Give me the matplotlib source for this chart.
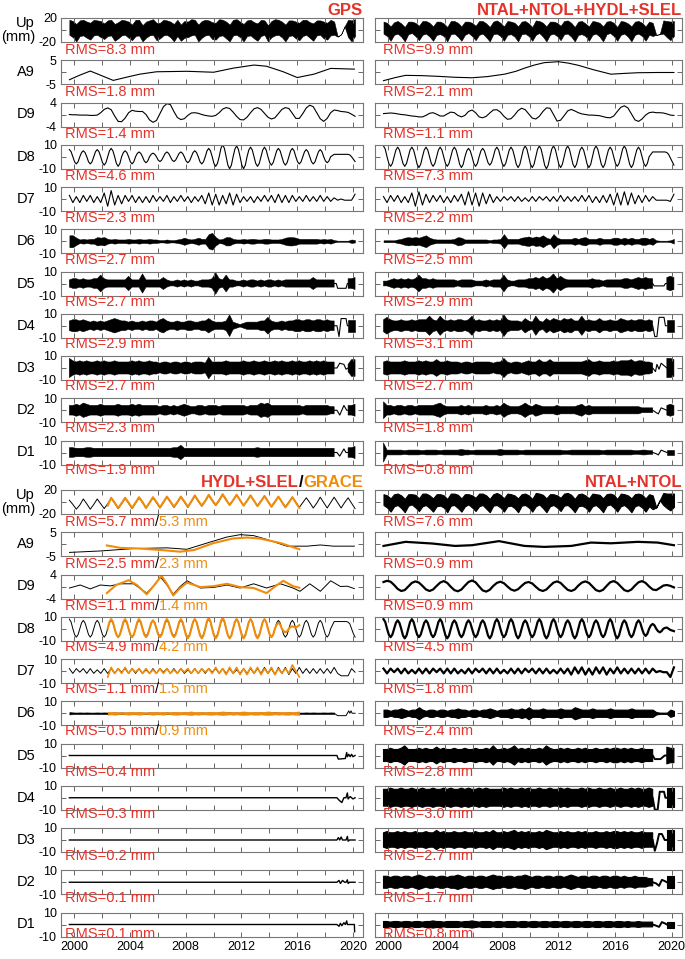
import numpy as np
import matplotlib.pyplot as plt

plt.rcParams['font.family'] = ['Liberation Sans', 'DejaVu Sans']

na = np.nan
T0, T1 = 1999.65, 2020.15   # span of the series
G0, G1 = 2002.4, 2016.15    # GRACE span

rows = ['Up\n(mm)', 'A9', 'D9', 'D8', 'D7', 'D6', 'D5', 'D4', 'D3', 'D2', 'D1']
lims = [20, 5, 4, 10, 10, 10, 10, 10, 10, 10, 10]
year_ticks = list(range(2000, 2021, 2))
year_labels = ['2000', '', '2004', '', '2008', '', '2012', '', '2016', '', '2020']

gps_rms = ['8.3', '1.8', '1.4', '4.6', '2.3', '2.7', '2.7', '2.9', '2.7', '2.3', '1.9']
rt_rms = ['9.9', '2.1', '1.1', '7.3', '2.2', '2.5', '2.9', '3.1', '2.7', '1.8', '0.8']
hyd_rms = ['5.7', '2.5', '1.1', '4.9', '1.1', '0.5', '0.4', '0.3', '0.2', '0.1', '0.1']
grace_rms = ['5.3', '2.3', '1.4', '4.2', '1.5', '0.9']
br_rms = ['7.6', '0.9', '0.9', '4.5', '1.8', '2.4', '2.8', '3.0', '2.7', '1.7', '0.8']

# ---------------- GPS ----------------
gps_up_hi = [17, 15, 10, 16, 17, 14, 12, 17, 16, 15, 11, 16, 17, 10, 13, 17, 16, 14, 9, 17,
             17, 8, 14, 16, 18, 12, 12, 17, 16, 14, 10, 17, 9, 15, 14, 18, 17, 9, 15, 17,
             16, 13, 12, 18, 17, 14, 9, 17, 18, 14, 10, 16, 17, 13, 11, 17, 16, 8, 15, 18,
             17, 14, 9, 16, 16, 14, 12, 17, 17, 13, 11, 16, 16, 14, 12, 17, 14, -11, -7, 6, 17, 16, 18]
gps_up_lo = [-8, -12, -19, -10, -9, -13, -16, -9, -8, -12, -15, -10, -9, -18, -14, -9, -8, -13, -17, -10,
             -9, -19, -13, -9, -8, -17, -14, -9, -8, -12, -19, -10, -18, -13, -12, -9, -8, -19, -13, -9,
             -8, -15, -16, -10, -9, -14, -19, -9, -8, -12, -19, -10, -9, -14, -18, -10, -8, -19, -12, -9,
             -8, -12, -19, -10, -9, -14, -17, -10, -8, -13, -18, -9, -8, -14, -16, -9, -8, -11, -7, 6, -12, -19, -10]
gps_a9_t = [1999.66, 2000.4, 2001.15, 2002.0, 2002.8, 2003.8, 2004.7, 2005.9, 2008.1, 2010.0,
            2011.4, 2012.9, 2013.8, 2015.0, 2016.0, 2017.2, 2018.4, 2020.1]
gps_a9 = [-3.1, -1.2, 0.5, -1.5, -3.4, -2.0, -0.8, 0.2, 0.4, 0.0, 1.7, 3.0, 2.5, 0.2, -2.2, -0.8, 1.6, 1.3]
gps_d9 = [0.0, -0.1, -0.1, -0.2, -0.2, -0.2, -0.3, -0.3, -0.2, 0.6, 1.7, 2.2, 1.6, -0.5, -2.3, -2.4,
          -1.2, 0.6, 1.4, 1.1, 1.0, 1.0, 0.0, -1.8, -2.6, -2.0, 0.3, 2.6, 3.6, 3.3, 1.0, -1.0,
          -1.7, -1.4, -0.3, 0.5, 0.6, 0.4, 0.0, -0.3, -0.5, -0.6, -0.3, 0.6, 1.8, 2.3, 2.0, 0.8,
          -0.6, -1.7, -1.8, -0.9, 0.6, 1.9, 2.3, 1.7, 0.4, -0.9, -1.5, -1.1, 0.3, 1.7, 2.3, 2.0,
          0.4, -1.3, -1.3, 0.3, 2.2, 3.1, 2.6, 0.6, -1.4, -2.3, -1.3, 0.6, 1.5, 1.3, 1.0, 0.9,
          0.7, 0.1, -0.6]
# D8 is read every eighth of a year
gps_d8 = [6, 4.2, 0, -4.2, -6, -4.2, 0, 3.5, 5, 3.5, 0, -4.2, -6, -4.2, 0, 4.2,
          6, 4.2, 0, -4.9, -7, -4.9, 0, 4.9, 7, 4.9, 0, -5.6, -8, -5.6, 0, 3.5,
          5, 3.5, 0, -4.2, -6, -4.2, 0, 2.8, 4, 2.8, 0, -3.5, -5, -3.5, 0, 2.1,
          3, 2.1, 0, -2.8, -4, -2.8, 0, 2.8, 4, 2.8, 0, -2.8, -4, -2.8, 0, 2.8,
          4, 2.8, 0, -3.5, -5, -3.5, 0, 3.5, 5, 3.5, 0, -4.2, -6, -4.2, 0, 4.9,
          7, 4.9, 0, -5.6, -8, -5.6, 0, 7, 10, 7, 0, -7, -10, -7, 0, 6.3,
          9, 6.3, 0, -7, -10, -7, 0, 5.6, 8, 5.6, 0, -5.6, -8, -5.6, 0, 5.6,
          8, 5.6, 0, -4.9, -7, -4.9, 0, 4.9, 7, 4.9, 0, -4.9, -7, -4.9, 0, 4.9,
          7, 4.9, 0, -4.2, -6, -4.2, 0, 4.2, 6, 4.2, 0, -4.2, -6, -4.2, 0, 4.2,
          6, 4.2, 0, -3.5, -5, -3.5, 0, 1, 2, 2, 2, 2, 2, 2, 2, 2, 2, 1.5, 0, -2, -4]
gps_d7 = [3, -3, 2, -3, 3, -2, 3, -3, 2, -3, 5, -6, 7, -5, 3, -4, 3, -2, 3, -3, 2, -3,
          2, -3, 3, -2, 2, -2, 3, -3, 2, -2, 3, -2, 2, -3, 2, -2, 3, -4, 5, -5, 4, -5, 3, -4,
          5, -5, 4, -3, 2, -2, 2, -3, 2, -2, 3, -2, 3, -3, 4, -3, 3, -3, 3, -2, 2, -2, 3, -2,
          2, -2, 3, -2, 2, -2, 1, -1, 0, -1, -1, -1, 4]
gps_d6 = [5, 5, 3, 1.5, 2, 1.5, 2, 2, 3.5, 3, 3.5, 2, 1.5, 2, 1.5, 1.5, 1.5, 2, 1.5, 1.5,
          2, 1.5, 1.5, 2, 1.5, 1.5, 1, 1, 1.5, 1, 1, 1.5, 2, 3, 2, 1.5, 2, 3, 2, 2,
          6, 7, 3.5, 1.5, 2, 3.5, 3.5, 2, 1.5, 1.5, 2, 1.5, 2, 2, 1.5, 1.5, 2, 2, 1.5, 1.5,
          1.5, 2, 3, 3.5, 3.5, 3, 2, 2, 2, 2, 2, 2, 1.5, 2, 1.5, 2, 1, 0.5, 0.5, 0.5, 0.5, 1.5, 1]
gps_d5 = [3, 4, 4, 3, 4, 3, 3, 4, 4, 7, 4, 3, 3, 3, 3, 3, 3, 6, 3, 3, 3, 8, 3, 3, 3, 3, 3, 5,
          3, 2, 2, 3, 2, 3, 2, 3, 2, 2, 3, 3, 3, 4, 9, 4, 3, 7, 3, 3, 2, 2, 3, 2, 3, 3, 2, 3,
          2, 3, 3, 2, 3, 2, 3, 3, 3, 3, 3, 3, 3, 3, 5, 3, 3, 3, 3, 3, 3, na, na, na, 4, 4, 5]
gps_d5_tt = [2018.65, 2018.8, 2018.9, 2019.5, 2019.6, 2019.65]
gps_d5_tv = [0, 0, -4, -4, 0, 0]
gps_d4 = [4, 5, 5, 4, 5, 4, 3, 4, 3, 4, 3, 4, 5, 6, 5, 4, 4, 3, 4, 3, 3, 4, 3, 4, 4, 3, 5, 6,
          4, 3, 3, 4, 3, 3, 4, 4, 3, 3, 4, 4, 6, 4, 3, 3, 3, 4, 9, 3, 2, 1, 2, 3, 3, 3, 3, 4,
          4, 7, 4, 3, 3, 4, 3, 4, 4, 5, 5, 4, 5, 5, 4, 5, 5, 4, 5, 4, 4, na, na, na, 5, 5, 5]
gps_d4_tt = [2018.65, 2018.85, 2019.0, 2019.15, 2019.5, 2019.6, 2019.65]
gps_d4_tv = [0, 0, -9, 6, 6, 0, 0]
gps_d3 = [8, 6, 5, 6, 5, 6, 5, 5, 6, 5, 6, 5, 5, 6, 5, 5, 5, 5, 6, 5, 6, 5, 5, 6, 5, 5, 4, 5,
          5, 4, 5, 5, 4, 5, 5, 4, 5, 5, 5, 4, 9, 5, 5, 5, 5, 6, 5, 5, 5, 5, 6, 5, 5, 6, 5, 5,
          6, 5, 5, 6, 5, 6, 5, 5, 6, 5, 6, 5, 5, 6, 5, 6, 5, 6, 5, 5, 5, na, na, na, 3, 7, 7]
gps_d3_tt = [2018.65, 2018.85, 2019.05, 2019.35, 2019.5, 2019.65]
gps_d3_tv = [0, 0, 4, 3, -1, 0]
gps_d2 = [4, 4, 5, 4, 6, 5, 4, 4, 4, 5, 4, 4, 4, 4, 5, 4, 4, 4, 5, 4, 5, 4, 4, 4, 4, 4, 3, 4,
          4, 3, 4, 3, 4, 5, 4, 3, 3, 4, 4, 3, 4, 4, 4, 3, 4, 4, 4, 4, 4, 4, 4, 3, 4, 4, 4, 6,
          5, 6, 4, 4, 4, 4, 4, 4, 4, 4, 4, 3, 4, 4, 4, 4, 4, 4, 4, 3, 3, na, na, na, 4, 4, 5]
gps_d2_tt = [2018.65, 2018.85, 2019.05, 2019.35, 2019.55, 2019.65]
gps_d2_tv = [0, 0, -4, 4, 0, 0]
gps_d1 = [4, 4, 3.5, 3.5, 3.5, 4, 4, 3.5, 3.5, 3.5, 3.5, 3.5, 3.5, 3.5, 3.5, 3.5, 3.5, 3.5, 3.5, 3.5,
          3.5, 3.5, 3.5, 3.5, 3.5, 3.5, 3.5, 3.5, 3.5, 3.5, 4, 4, 6, 3.5, 3.5, 3.5, 3.5, 3.5, 3.5, 3.5,
          3.5, 3.5, 3.5, 3.5, 3.5, 3.5, 3.5, 3.5, 3.5, 3.5, 3.5, 3.5, 3.5, 3.5, 4, 3.5, 3.5, 3.5, 3.5, 3.5,
          3.5, 3.5, 3.5, 3.5, 3.5, 3.5, 3.5, 3.5, 3.5, 3.5, 3.5, 3.5, 3.5, 3.5, 3.5, 3.5, 3.5, na, na, na,
          4, 4, 5]
gps_d1_tt = [2018.65, 2018.85, 2019.05, 2019.35, 2019.5, 2019.65]
gps_d1_tv = [0, 0, -3, 3, 0, 0]

# ---------------- NTAL+NTOL+HYDL+SLEL ----------------
rt_up_hi = [14, 12, 6, 13, 15, 11, 5, 14, 14, 12, 7, 15, 15, 12, 6, 14, 14, 11, 5, 15,
            15, 12, 6, 14, 14, 12, 7, 15, 15, 11, 5, 14, 16, 12, 6, 15, 14, 12, 6, 14,
            15, 11, 5, 16, 15, 12, 6, 14, 14, 12, 7, 15, 16, 12, 5, 14, 15, 11, 6, 15,
            14, 12, 6, 14, 15, 12, 5, 15, 14, 11, 6, 14, 15, 12, 6, 14, 12, -8, -7, 16, 15, 14, 15]
rt_up_lo = [-6, -10, -18, -8, -6, -11, -19, -7, -5, -10, -17, -8, -6, -11, -18, -8, -7, -10, -19, -7,
            -6, -11, -18, -8, -5, -10, -17, -8, -6, -12, -19, -7, -6, -10, -18, -8, -7, -11, -19, -7,
            -6, -10, -18, -8, -5, -11, -19, -8, -6, -10, -17, -7, -6, -11, -19, -8, -7, -10, -18, -8,
            -6, -11, -19, -7, -5, -10, -18, -8, -6, -11, -19, -8, -6, -10, -18, -8, -10, -8, -7, -6, -12, -17, -10]
rt_a9_t = [1999.65, 2000.5, 2001.2, 2002.3, 2003.5, 2004.7, 2005.9, 2007.0, 2008.2, 2009.0, 2009.6,
           2010.3, 2011.0, 2012.0, 2012.7, 2013.4, 2014.5, 2015.7, 2016.6, 2017.6, 2019.0, 2020.15]
rt_a9 = [-3.5, -2.2, -1.3, -1.4, -1.7, -2.1, -2.3, -1.8, -0.8, 0.4, 1.7, 3.0, 4.0, 4.4, 3.8, 2.9,
         1.0, -0.8, -0.5, -0.2, -0.1, -0.1]
rt_d9 = [0.3, 0.4, 0.5, 0.4, 0.2, 0.0, -0.1, -0.3, -0.5, -0.6, -0.8, -0.8, -0.3, 0.4, 0.6, 0.1,
         -0.5, -0.5, 0.2, 0.8, 0.6, -0.3, -0.8, -0.3, 1.0, 1.5, 0.6, -0.8, -1.1, -0.6, 0.5, 1.5,
         1.6, 0.8, -0.6, -1.6, -1.4, -0.2, 1.3, 2.1, 1.6, 0.2, -1.2, -1.5, -0.6, 1.0, 2.2, 2.1,
         0.0, -2.2, -1.9, -0.4, 1.2, 1.7, 1.2, 0.6, 0.2, 0.0, -0.2, -0.2, -0.3, -0.4, -0.7, -1.0,
         -1.1, -0.5, 1.0, 2.4, 2.9, 2.2, 0.2, -1.8, -2.3, -1.5, -0.2, 0.6, 0.8, 0.6, 0.6, 0.5,
         0.2, -0.2, -0.3]
rt_d8 = [9, 6.3, 0, -5.6, -8, -5.6, 0, 5.6, 8, 5.6, 0, -5.6, -8, -5.6, 0, 5.6,
         8, 5.6, 0, -6.3, -9, -6.3, 0, 5.6, 8, 5.6, 0, -5.6, -8, -5.6, 0, 5.6,
         8, 5.6, 0, -5.6, -8, -5.6, 0, 5.6, 8, 5.6, 0, -6.3, -9, -6.3, 0, 4.9,
         7, 4.9, 0, -5.6, -8, -5.6, 0, 4.9, 7, 4.9, 0, -4.9, -7, -4.9, 0, 5.6,
         8, 5.6, 0, -5.6, -8, -5.6, 0, 5.6, 8, 5.6, 0, -6.3, -9, -6.3, 0, 6.3,
         9, 6.3, 0, -6.3, -9, -6.3, 0, 6.3, 9, 6.3, 0, -7, -10, -7, 0, 6.3,
         9, 6.3, 0, -6.3, -9, -6.3, 0, 6.3, 9, 6.3, 0, -6.3, -9, -6.3, 0, 5.6,
         8, 5.6, 0, -6.3, -9, -6.3, 0, 6.3, 9, 6.3, 0, -6.3, -9, -6.3, 0, 5.6,
         8, 5.6, 0, -5.6, -8, -5.6, 0, 6.3, 9, 6.3, 0, -6.3, -9, -6.3, 0, 5.6,
         8, 5.6, 0, -5.6, -8, -5.6, 0, 2, 4, 4, 4, 4, 4, 4, 4, 4, 3.5, 2, -1, -4, -7]
rt_d7 = [2, -3, 3, -2, 3, -3, 2, -3, 5, -6, 6, -5, 4, -3, 3, -2, 3, -3, 2, -3, 3, -2,
         4, -5, 6, -5, 5, -6, 5, -4, 4, -3, 2, -2, 2, -1, 2, -2, 2, -2, 1, -2, 2, -2, 2, -1,
         2, -2, 2, -2, 3, -2, 2, -2, 2, -2, 3, -2, 3, -3, 2, -3, 3, -3, 4, -5, 5, -5, 6, -5,
         5, -4, 3, -3, 3, -2, 2, -1, -1, -1, -1, -2, 4]
rt_d6 = [0.8, 0.8, 0.8, 0.8, 1.5, 2, 3, 3.5, 3, 3.5, 3, 4, 5, 3, 2, 1.5, 1.5, 1.5, 1.5, 1.5,
         2, 3.5, 3, 1.5, 1.5, 1.5, 1.5, 1.5, 1.5, 1.5, 1, 1.5, 1.5, 2, 6, 2, 2, 2, 2, 3,
         3.5, 4, 3, 4, 3.5, 5, 3, 2, 6, 3, 2, 2, 2, 2, 3, 2, 3, 3.5, 2, 2,
         2, 3, 2, 2, 2, 3, 3, 2, 3, 2, 3, 2, 2, 3, 3, 2, 3, 0.8, 0.5, 0.5, 0.5, 0.8, 2]
rt_d5 = [2, 2, 3, 4, 3, 4, 3, 4, 3, 4, 7, 4, 4, 3, 4, 3, 3, 3, 3, 3, 3, 2, 3, 3, 3, 3, 2, 2,
         2, 3, 2, 3, 3, 3, 7, 3, 2, 2, 3, 3, 3, 4, 4, 5, 4, 6, 4, 5, 8, 4, 6, 4, 3, 3, 3, 3,
         3, 3, 3, 4, 3, 3, 2, 3, 3, 3, 3, 3, 4, 4, 3, 4, 5, 4, 5, 4, 4, na, na, na, 5, 6, 5]
rt_d5_tt = [2018.65, 2018.75, 2019.45, 2019.55, 2019.65]
rt_d5_tv = [0, -2, -2, 0, 0]
rt_d4 = [5, 7, 5, 4, 4, 5, 4, 4, 5, 4, 5, 5, 5, 8, 5, 4, 8, 5, 4, 5, 4, 5, 5, 4, 5, 8, 4, 5,
         4, 4, 5, 4, 5, 4, 9, 5, 4, 4, 4, 3, 6, 4, 3, 8, 4, 3, 6, 4, 6, 5, 4, 6, 5, 6, 4, 4,
         8, 4, 5, 4, 4, 6, 4, 4, 5, 4, 4, 6, 5, 4, 5, 4, 5, 5, 4, 5, 4, na, na, na, 5, 5, 5]
rt_d4_tt = [2018.65, 2018.8, 2018.95, 2019.1, 2019.45, 2019.55, 2019.65]
rt_d4_tv = [0, -9, -9, 7, 7, 0, 0]
rt_d3 = [5, 6, 5, 5, 5, 5, 6, 5, 5, 5, 6, 5, 6, 5, 5, 7, 5, 5, 6, 5, 5, 5, 4, 5, 5, 4, 5, 5,
         5, 5, 5, 4, 5, 5, 8, 5, 4, 5, 5, 4, 5, 6, 5, 5, 7, 5, 5, 7, 5, 5, 5, 5, 5, 5, 5, 5,
         5, 6, 7, 5, 5, 6, 5, 5, 5, 6, 5, 6, 6, 6, 7, 5, 6, 6, 5, 5, 4, na, na, na, 8, 8, 7]
rt_d3_tt = [2018.65, 2018.85, 2018.95, 2019.1, 2019.25, 2019.45, 2019.65]
rt_d3_tv = [0, -3, 3, -1, 4, 2, 0]
rt_d2 = [7, 4, 4, 3, 4, 4, 3, 4, 4, 3, 4, 4, 4, 4, 4, 5, 6, 4, 3, 3, 3, 3, 4, 3, 4, 3, 3, 3,
         3, 4, 3, 3, 4, 3, 6, 4, 3, 3, 3, 4, 6, 4, 3, 5, 4, 3, 3, 3, 3, 4, 3, 3, 3, 3, 3, 4,
         5, 3, 4, 3, 3, 3, 3, 3, 3, 3, 3, 3, 3, 3, 3, 3, 3, 2, 2, 2, 2, na, na, na, 4, 5, 4]
rt_d2_tt = [2018.65, 2018.9, 2019.05, 2019.25, 2019.45, 2019.65]
rt_d2_tv = [0, -2, -3, 2, 1, 0]
rt_d1 = [8, 2, 2, 2, 2, 2, 1.5, 2, 2, 2, 2, 1.5, 2, 2, 2, 2, 1.5, 2, 2, 2, 2, 2, 2.5, 2, 2, 1.5, 2, 2,
         2, 2, 2, 2, 2, 2.5, 2, 2, 2, 2, 2, 1.5, 2, 2, 2, 2, 2, 2, 2, 2, 2, 2, 2, 1.5, 1.5, 2, 2, 2,
         2, 2, 2, 2, 2, 2, 1.5, 2, 2, 2, 2, 2, 2, 2, 2, 1.5, 1.5, 2, 2, 1.5, 1.5, na, na, na, 2, 2, 2]
rt_d1_tt = [2018.65, 2018.9, 2019.05, 2019.25, 2019.45, 2019.65]
rt_d1_tv = [0, -1, -2, 2, 1, 0]

# ---------------- HYDL+SLEL (black) and GRACE (orange) ----------------
hyd_up = [3, -4, -12, -5, 5, -3, -12, -4, 5, -3, -11, -3, 6, -2, -11, -3, 6, -2, -11, -2,
          7, -1, -10, -2, 7, -1, -10, -1, 8, 0, -9, -1, 8, 0, -9, 0, 10, 1, -7, 1,
          11, 2, -6, 2, 12, 3, -5, 3, 12, 3, -6, 2, 11, 2, -6, 2, 10, 1, -7, 1,
          9, 0, -8, 0, 8, 0, -9, -1, 7, -1, -10, -2, 8, -1, -10, -1, 8, -1, -10, -1, 7, -2, -11]
grace_up = [-6, 7, -1, -10, -2, 7, -1, -10, -1, 8, 0, -10, -1, 8, 0, -9, 0, 9, 1, -8, 0,
            9, 1, -8, 1, 11, 2, -6, 2, 12, 3, -5, 3, 13, 4, -5, 3, 12, 3, -6, 2,
            11, 2, -7, 1, 10, 1, -8, 0, 9, 0, -9, -1, 8, -1, -10]
hyd_a9_t = [1999.66, 2001.87, 2004.26, 2006.65, 2008.08, 2009.52, 2010.95, 2011.91, 2012.87,
            2013.82, 2015.26, 2016.7, 2017.66, 2018.61, 2020.1]
hyd_a9 = [-3.4, -2.8, -1.8, -1.5, -2.1, 0.5, 3.0, 4.0, 3.6, 2.0, -0.8, -0.8, -0.3, -0.8, -0.8]
grace_a9_t = [2002.34, 2003.3, 2004.7, 2006.2, 2007.6, 2008.6, 2010.0, 2011.4, 2012.4, 2013.3, 2014.8, 2016.15]
grace_a9 = [-0.5, -1.5, -1.8, -2.4, -3.1, -2.4, 0.5, 2.4, 2.8, 2.4, 0.5, -2.1]
hyd_d9_t = [1999.66, 2000.43, 2001.15, 2001.87, 2002.59, 2003.3, 2004.26, 2005.2, 2005.7, 2006.2,
            2006.65, 2007.1, 2007.6, 2008.1, 2009.05, 2010.0, 2010.96, 2011.9, 2012.87, 2013.8,
            2014.8, 2015.7, 2016.2, 2016.9, 2017.66, 2018.4, 2019.1, 2019.6, 2020.1]
hyd_d9 = [-0.5, 0.5, -0.8, 0.5, 0.2, 0.9, 0.9, -2.2, 0.2, 3.1, 0.5, -2.6, 0.0, 1.9, -0.5, -0.3,
          0.5, -0.5, 0.9, -0.5, 0.9, -0.5, -1.6, 0.9, -1.6, 1.9, 0.0, 0.1, -0.7]
grace_d9_t = [2002.34, 2003.0, 2003.9, 2004.5, 2005.2, 2005.75, 2006.26, 2006.7, 2007.1, 2007.6,
              2008.1, 2009.05, 2010.0, 2010.96, 2011.9, 2012.87, 2013.8, 2014.4, 2015.0, 2015.7, 2016.15]
grace_d9 = [-2.2, 0.5, 2.1, 0.5, -2.6, 0.5, 3.6, 0.5, -3.0, -0.5, 1.3, -0.2, 0.1, 0.9, -0.2, -0.5,
            -2.2, 0.0, 1.9, 0.1, -0.4]
hyd_d8 = [8, 5.6, 0, -4.9, -7, -4.9, 0, 4.9, 7, 4.9, 0, -4.9, -7, -4.9, 0, 4.9,
          7, 4.9, 0, -4.9, -7, -4.9, 0, 4.9, 7, 4.9, 0, -4.9, -7, -4.9, 0, 4.9,
          7, 4.9, 0, -4.9, -7, -4.9, 0, 4.9, 7, 4.9, 0, -4.2, -6, -4.2, 0, 4.9,
          7, 4.9, 0, -4.2, -6, -4.2, 0, 4.9, 7, 4.9, 0, -4.2, -6, -4.2, 0, 4.9,
          7, 4.9, 0, -4.9, -7, -4.9, 0, 5.6, 8, 5.6, 0, -4.9, -7, -4.9, 0, 5.6,
          8, 5.6, 0, -4.9, -7, -4.9, 0, 5.6, 8, 5.6, 0, -5.6, -8, -5.6, 0, 5.6,
          8, 5.6, 0, -4.9, -7, -4.9, 0, 5.6, 8, 5.6, 0, -4.9, -7, -4.9, 0, 5.6,
          8, 5.6, 0, -4.9, -7, -4.9, 0, 4.9, 7, 4.9, 0, -4.9, -7, -4.9, 0, 4.9,
          7, 4.9, 0, -4.9, -7, -4.9, 0, 4.9, 7, 4.9, 0, -4.9, -7, -4.9, 0, 4.9,
          7, 4.9, 0, -4.9, -7, -4.9, 0, 3, 6, 6, 6, 6, 6, 6, 6, 6, 5.5, 4, 0, -4, -7]
grace_d8 = [0, 5.6, 8, 5.6, 0, -4.9, -7, -4.9, 0, 5.6, 8, 5.6, 0, -4.9, -7, -4.9, 0, 5.6,
            8, 5.6, 0, -4.9, -7, -4.9, 0, 4.9, 7, 4.9, 0, -4.9, -7, -4.9, 0, 5.6,
            8, 5.6, 0, -4.9, -7, -4.9, 0, 5.6, 8, 5.6, 0, -5.6, -8, -5.6, 0, 5.6,
            8, 5.6, 0, -5.6, -8, -5.6, 0, 6.3, 9, 6.3, 0, -5.6, -8, -5.6, 0, 6.3,
            9, 6.3, 0, -5.6, -8, -5.6, 0, 5.6, 8, 5.6, 0, -5.6, -8, -5.6, 0, 5.6,
            8, 5.6, 0, -5.6, -8, -5.6, 0, 5.6, 8, 5.6, 0, -4.9, -7, -4.9, 0, 3.5,
            5, 3.5, 0, -2, -3, -2, 0, 1.5, 2, 1.5, 1, 2, 3]
hyd_d7 = [2, -2, 2, -1, 2, -2, 2, -2, 1, -2, 2, -2, 2, -2, 2, -1, 2, -2, 2, -2,
          2, -2, 1, -2, 2, -2, 2, -1, 2, -2, 2, -2, 2, -2, 1, -2, 2, -2, 2, -2,
          2, -1, 2, -2, 2, -2, 2, -2, 1, -2, 2, -2, 2, -2, 2, -2, 3, -2, 2, -3,
          3, -2, 3, -3, 2, -2, 3, -2, 2, -2, 2, -2, 2, -2, 2, -2, 3, -2, -4, -4, -4, 2, -1]
grace_d7 = [-5, 3, -2, 2, -2, 3, -2, 2, -1, 2, -2, 2, -2, 1, -2, 2, -2, 2, -2, 1,
            -2, 2, -1, 2, -2, 2, -2, 2, -1, 2, -2, 3, -2, 2, -3, 3, -2, 3, -3, 2,
            -3, 3, -2, 3, -3, 2, -2, 3, -3, 2, -2, 2, -2, 5, 0, -5]
hyd_d6 = [1, 0.7, 0.6, 0.7, 0.6, 0.7, 0.6, 0.6, 0.7, 0.6, 0.7, 0.6, 0.6, 0.7, 0.6, 0.7,
          0.6, 0.6, 0.7, 0.6, 0.7, 0.6, 0.6, 0.7, 0.6, 0.7, 0.6, 0.6, 0.7, 0.6, 0.7, 0.6,
          0.6, 0.7, 0.6, 0.7, 0.6, 0.6, 0.7, 0.6, 0.7, 0.6, 0.6, 0.7, 0.6, 0.7, 0.8, 0.6,
          0.7, 0.6, 0.7, 0.6, 0.6, 0.7, 0.6, 0.7, 0.6, 0.6, 0.7, 0.8, 0.7, 0.6, 0.6, 0.7,
          0.6, 0.7, 0.6, 0.6, 0.7, 0.6, 0.7, 0.6, 0.6, 0.7, 0.6, 0.7, 0.6, na, na, na, na, na, na]
hyd_d6_tt = [2018.65, 2018.9, 2019.5, 2019.6, 2019.7, 2019.78, 2019.86, 2019.94, 2020.15]
hyd_d6_tv = [0, -2, -2, 0, 2, 0, 2, 0, 0]
grace_d6 = [1.3, 1, 1.3, 1, 0.7, 1, 1.3, 1, 1, 1.3, 1, 0.7, 1, 1.3, 1, 1, 1.3, 0.7, 1, 1.3,
            1.3, 1, 1, 1.3, 1.6, 1, 1.3, 1, 1, 1.3, 1.3, 1, 1.3, 1.6, 1.3, 1, 1.3, 1, 1.3, 1.6,
            1.3, 1, 1.3, 1.3, 1, 1.3, 1.6, 1.3, 1, 1.3, 1, 1.3, 1.3, 1, 1.3, 1.6]
hyd_d5_t = [T0, 2018.85, 2018.95, 2019.45, 2019.55, 2019.6, 2019.7, 2019.8, 2019.9, 2020.0, T1]
hyd_d5 = [0, 0, -3, -2.5, 2.5, -1, 1, -1, 1, -1, 0]
hyd_d4_t = [T0, 2018.85, 2019.0, 2019.2, 2019.35, 2019.5, 2019.6, 2019.65, 2019.8, 2020.0, T1]
hyd_d4 = [0, 0, -2, -4, 0, 0, 4, -1, 1, -1, 0]
hyd_d3_t = [T0, 2018.85, 2018.95, 2019.05, 2019.15, 2019.25, 2019.5, 2019.6, 2019.65, 2019.75, T1]
hyd_d3 = [0, 0, 2, 0, 2.5, 0, 0, 3, -1, 0, 0]
hyd_d2_t = [T0, 2018.85, 2019.0, 2019.1, 2019.25, 2019.4, 2019.5, 2019.6, 2019.65, 2019.75, T1]
hyd_d2 = [0, 0, 1.5, -1, 1.5, 0, 0, 2, -1, 0, 0]
hyd_d1_t = [T0, 2018.85, 2019.0, 2019.1, 2019.2, 2019.35, 2019.45, 2019.55, 2019.6, 2020.1, 2020.12]
hyd_d1 = [0, 0, -1.5, 1, -1, 1.5, 0, 3, 0, 0, -6]

# ---------------- NTAL+NTOL ----------------
br_up_hi = [13, 11, 6, 13, 14, 11, 5, 13, 13, 12, 6, 14, 14, 11, 6, 13, 13, 11, 5, 14,
            14, 12, 6, 13, 13, 11, 7, 14, 14, 11, 5, 13, 15, 12, 6, 14, 13, 11, 6, 13,
            14, 11, 5, 15, 14, 12, 6, 13, 13, 11, 7, 14, 15, 12, 5, 13, 14, 11, 6, 14,
            13, 12, 6, 13, 14, 12, 5, 14, 13, 11, 6, 13, 14, 12, 6, 13, 11, -9, 3, 15, 14, 14, 14]
br_up_lo = [-5, -9, -16, -7, -5, -10, -17, -6, -4, -9, -15, -7, -5, -10, -16, -7, -6, -9, -17, -6,
            -5, -10, -16, -7, -4, -9, -15, -7, -5, -11, -17, -6, -5, -9, -16, -7, -6, -10, -17, -6,
            -5, -9, -16, -7, -4, -10, -17, -7, -5, -9, -15, -6, -5, -10, -17, -7, -6, -9, -16, -7,
            -5, -10, -17, -6, -4, -9, -16, -7, -5, -10, -17, -7, -5, -9, -16, -7, -12, -9, 3, -5, -10, -14, -8]
br_a9_t = [1999.65, 2001.2, 2003.1, 2004.7, 2005.9, 2007.8, 2009.6, 2011.0, 2012.9, 2014.3,
           2015.7, 2017.6, 2019.0, 2020.15]
br_a9 = [-0.7, 1.0, 0.3, -0.7, -0.4, 1.3, -0.7, -1.1, -0.7, 0.7, 0.4, 1.0, 0.7, -0.4]
br_d9 = [1.5, 1.9, 1.6, 0.5, -0.8, -1.5, -1.2, 0.0, 1.2, 1.7, 1.3, 0.2, -1.0, -1.5, -1.0, 0.2,
         1.3, 1.8, 1.2, -0.1, -1.2, -1.6, -1.0, 0.3, 1.5, 2.0, 1.4, 0.0, -1.3, -1.7, -1.1, 0.2,
         1.2, 1.6, 1.1, 0.0, -1.0, -1.4, -0.9, 0.2, 1.2, 1.5, 1.0, -0.1, -1.1, -1.5, -1.0, 0.2,
         1.3, 1.7, 1.2, 0.0, -1.1, -1.5, -1.0, 0.3, 1.3, 1.7, 1.2, 0.0, -1.2, -1.6, -1.1, 0.2,
         1.4, 1.8, 1.2, 0.0, -1.2, -1.6, -1.0, 0.3, 1.4, 1.8, 1.2, 0.0, -1.0, -1.2, -0.5, 0.3,
         0.5, 0.2, -0.3]
br_d8 = [8, 5.6, 0, -4.9, -7, -4.9, 0, 4.9, 7, 4.9, 0, -5.6, -8, -5.6, 0, 5.6,
         8, 5.6, 0, -4.9, -7, -4.9, 0, 4.9, 7, 4.9, 0, -4.9, -7, -4.9, 0, 5.6,
         8, 5.6, 0, -5.6, -8, -5.6, 0, 4.9, 7, 4.9, 0, -4.9, -7, -4.9, 0, 4.9,
         7, 4.9, 0, -4.9, -7, -4.9, 0, 4.9, 7, 4.9, 0, -5.6, -8, -5.6, 0, 5.6,
         8, 5.6, 0, -4.9, -7, -4.9, 0, 5.6, 8, 5.6, 0, -5.6, -8, -5.6, 0, 4.9,
         7, 4.9, 0, -4.9, -7, -4.9, 0, 5.6, 8, 5.6, 0, -5.6, -8, -5.6, 0, 5.6,
         8, 5.6, 0, -4.9, -7, -4.9, 0, 4.9, 7, 4.9, 0, -5.6, -8, -5.6, 0, 5.6,
         8, 5.6, 0, -4.9, -7, -4.9, 0, 4.9, 7, 4.9, 0, -4.9, -7, -4.9, 0, 5.6,
         8, 5.6, 0, -5.6, -8, -5.6, 0, 4.9, 7, 4.9, 0, -4.9, -7, -4.9, 0, 4.9,
         7, 4.9, 0, -4.2, -6, -4.2, 0, 2.8, 4, 2.8, 0, -2, -3, -2, 0, 0.7, 1, 0, -1, -1.5, -2]
br_d7 = [2, -2, 2, -1, 2, -2, 2, -2, 1, -2, 2, -2, 2, -2, 2, -1, 2, -2, 2, -2,
         2, -2, 1, -2, 2, -2, 2, -1, 2, -2, 2, -2, 2, -2, 1, -2, 2, -2, 2, -2,
         2, -1, 2, -2, 2, -2, 2, -2, 1, -2, 2, -2, 2, -3, 3, -2, 3, -3, 2, -3,
         3, -2, 3, -3, 2, -2, 3, -2, 2, -2, 2, -2, 2, -2, 2, -2, 2, -1, 0, -1, -1, -5, 3]
br_d6 = [3, 3, 2, 3, 3, 4, 3, 2, 3, 3, 5, 3, 2, 3, 3, 2, 3, 3, 2, 3, 3, 4, 3, 3, 2, 3, 3, 2,
         3, 3, 4, 3, 2, 3, 3, 3, 4, 3, 3, 4, 3, 5, 3, 3, 3, 4, 3, 3, 3, 3, 4, 3, 3, 3, 5, 4,
         3, 3, 3, 4, 3, 3, 3, 3, 4, 3, 3, 3, 3, 3, 4, 3, 3, 3, 3, 3, 3, 1, 0.5, 0.5, 0.5, 3, 2]
br_d5 = [5, 5, 6, 5, 5, 6, 8, 5, 5, 5, 6, 5, 6, 5, 5, 7, 5, 6, 5, 5, 6, 5, 5, 6, 5, 5, 6, 5,
         5, 6, 5, 8, 5, 5, 6, 5, 6, 8, 5, 6, 5, 6, 5, 5, 6, 5, 8, 6, 5, 5, 6, 5, 6, 5, 5, 6,
         5, 6, 5, 5, 6, 5, 5, 6, 5, 6, 6, 5, 6, 5, 6, 5, 5, 6, 5, 5, 5, na, na, na, 7, 6, 6]
br_d5_tt = [2018.65, 2018.8, 2019.2, 2019.5, 2019.65]
br_d5_tv = [0, -3, -3, 0, 0]
br_d4 = [7, 7, 8, 7, 7, 8, 7, 7, 8, 7, 7, 8, 7, 7, 8, 7, 7, 8, 7, 8, 7, 7, 8, 7, 8, 7, 7, 8,
         7, 8, 7, 7, 7, 7, 8, 7, 8, 7, 7, 8, 7, 8, 7, 7, 8, 7, 7, 8, 7, 7, 8, 7, 8, 7, 7, 7,
         8, 7, 8, 7, 7, 8, 7, 7, 8, 7, 7, 8, 7, 7, 8, 7, 8, 7, 7, 8, 7, na, na, na, 8, 8, 8]
br_d4_tt = [2018.65, 2018.8, 2019.0, 2019.15, 2019.45, 2019.55, 2019.65]
br_d4_tv = [0, -10, -10, 5, 5, 0, 0]
br_d3 = [6, 7, 6, 6, 7, 6, 7, 6, 6, 7, 6, 6, 7, 6, 6, 8, 6, 7, 6, 6, 7, 6, 6, 7, 6, 6, 7, 6,
         6, 7, 6, 8, 6, 6, 7, 6, 7, 8, 6, 7, 6, 7, 6, 6, 7, 6, 8, 7, 6, 6, 7, 6, 7, 6, 6, 7,
         6, 7, 6, 6, 7, 6, 6, 7, 6, 7, 7, 6, 7, 6, 7, 6, 6, 7, 6, 6, 6, na, na, na, 8, 8, 8]
br_d3_tt = [2018.65, 2018.8, 2018.95, 2019.1, 2019.3, 2019.5, 2019.65]
br_d3_tv = [0, -9, -3, 5, 5, 0, 0]
br_d2 = [5, 5, 4, 5, 5, 4, 5, 5, 4, 5, 6, 5, 4, 5, 5, 4, 5, 5, 4, 5, 5, 6, 5, 4, 5, 5, 4, 5,
         5, 4, 5, 6, 5, 5, 4, 5, 5, 4, 5, 5, 6, 5, 4, 5, 5, 4, 5, 5, 4, 5, 5, 4, 5, 6, 5, 4,
         5, 5, 4, 5, 5, 4, 5, 5, 4, 5, 5, 4, 5, 4, 4, 5, 4, 4, 4, 3, 3, na, na, na, 5, 5, 5]
br_d2_tt = [2018.65, 2018.9, 2019.1, 2019.3, 2019.5, 2019.65]
br_d2_tv = [0, -1, -3, 2, 1, 0]
br_d1 = [2.5, 2.5, 2, 2.5, 2.5, 2, 2.5, 2.5, 2, 2.5, 2.5, 2, 2.5, 2.5, 3, 2.5, 2.5, 2, 2.5, 2.5,
         2.5, 2.5, 2, 2.5, 2.5, 3, 2.5, 2, 2.5, 2.5, 2.5, 2, 2.5, 2.5, 2, 2.5, 2.5, 2.5, 2, 2.5,
         2.5, 2, 2.5, 2.5, 2, 2.5, 2.5, 2, 2.5, 2.5, 2, 2.5, 2.5, 2, 2.5, 2.5, 2, 2.5, 2.5, 2,
         2.5, 2.5, 2, 2.5, 2.5, 2, 2.5, 2.5, 2, 2.5, 2, 2, 2.5, 2, 2, 2, 2, na, na, na, 2.5, 2.5, 2.5]
br_d1_tt = [2018.65, 2018.9, 2019.1, 2019.3, 2019.5, 2019.65]
br_d1_tv = [0, -1, -2, 2, 1, 0]

# ---------------- drawing ----------------
RED = '#e5332a'
ORANGE = '#f08c0a'
W, H = 685.0, 959.0
fig = plt.figure(figsize=(6.85, 9.59), dpi=100)


def new_ax(col, group, k):
    left, width = [(61, 302), (375, 307)][col]
    top = [18, 490][group] + 42.25 * k
    ax = fig.add_axes([left / W, 1 - (top + 24) / H, width / W, 24 / H])
    lim = lims[k]
    ax.set_xlim(1999.05, 2020.72)
    ax.set_ylim(-lim, lim)
    ax.set_xticks(year_ticks)
    ax.set_yticks([-lim, 0, lim])
    ax.tick_params(direction='in', length=3.5, width=0.7, color='#666666', labelsize=9,
                   pad=3, top=True, right=True)
    if col == 0:
        ax.set_yticklabels([str(-lim), '', str(lim)])
        fig.text(35 / W, 1 - (top + 12) / H, rows[k], ha='right', va='center',
                 fontsize=10.5, linespacing=1.0, multialignment='right')
    else:
        ax.set_yticklabels([])
    if group == 1 and k == 10:
        ax.set_xticklabels(year_labels)
    else:
        ax.set_xticklabels([])
    for s in ax.spines.values():
        s.set_color('#777777')
        s.set_linewidth(0.8)
    return ax


def line(ax, vals, t0=T0, t1=T1, color='k', lw=0.8):
    ax.plot(np.linspace(t0, t1, len(vals)), vals, color=color, lw=lw)


def band(ax, hi, lo=None, t0=T0, t1=T1, color='k', lw=0.4):
    t = np.linspace(t0, t1, len(hi))
    hi = np.asarray(hi, float)
    lo = -hi if lo is None else np.asarray(lo, float)
    ax.fill_between(t, lo, hi, facecolor=color, edgecolor=color, lw=lw)


def rms(ax, col, value, dy, grace=None):
    # dy: distance in pixels from the bottom of the axes down to the text centre
    x = 0.013 if col == 0 else 0.026
    t = ax.text(x, -dy / 24.0, 'RMS=%s mm' % value, transform=ax.transAxes, color=RED,
                fontsize=10.5, va='center')
    if grace:
        s = ax.annotate('/', xy=(1, 0), xycoords=t, va='bottom', fontsize=10.5)
        ax.annotate('%s mm' % grace, xy=(1, 0), xycoords=s, va='bottom', color=ORANGE, fontsize=10.5)


def title(ax, parts):
    prev = None
    for text, color in reversed(parts):
        if prev is None:
            prev = ax.text(1.0, 1.33, text, transform=ax.transAxes, ha='right', va='center',
                           color=color, fontsize=12, fontweight='bold')
        else:
            prev = ax.annotate(text, xy=(0, 0), xycoords=prev, ha='right', va='bottom',
                               color=color, fontsize=12, fontweight='bold')


top_dy = [8.5 - 0.3 * k for k in range(11)]
bot_dy = [8.0 - 0.5 * k for k in range(10)] + [-2.7]

# GPS
a = [new_ax(0, 0, k) for k in range(11)]
band(a[0], gps_up_hi, gps_up_lo)
a[1].plot(gps_a9_t, gps_a9, color='k', lw=0.8)
line(a[2], gps_d9)
line(a[3], gps_d8)
line(a[4], gps_d7)
band(a[5], gps_d6, lw=0.3)
for ax, amp, tt, tv in [(a[6], gps_d5, gps_d5_tt, gps_d5_tv), (a[7], gps_d4, gps_d4_tt, gps_d4_tv),
                        (a[8], gps_d3, gps_d3_tt, gps_d3_tv), (a[9], gps_d2, gps_d2_tt, gps_d2_tv),
                        (a[10], gps_d1, gps_d1_tt, gps_d1_tv)]:
    band(ax, amp)
    ax.plot(tt, tv, color='k', lw=0.8)
for k in range(11):
    rms(a[k], 0, gps_rms[k], top_dy[k])
title(a[0], [('GPS', RED)])

# NTAL+NTOL+HYDL+SLEL
a = [new_ax(1, 0, k) for k in range(11)]
band(a[0], rt_up_hi, rt_up_lo)
a[1].plot(rt_a9_t, rt_a9, color='k', lw=0.8)
line(a[2], rt_d9)
line(a[3], rt_d8)
line(a[4], rt_d7)
band(a[5], rt_d6, lw=0.3)
for ax, amp, tt, tv in [(a[6], rt_d5, rt_d5_tt, rt_d5_tv), (a[7], rt_d4, rt_d4_tt, rt_d4_tv),
                        (a[8], rt_d3, rt_d3_tt, rt_d3_tv), (a[9], rt_d2, rt_d2_tt, rt_d2_tv),
                        (a[10], rt_d1, rt_d1_tt, rt_d1_tv)]:
    band(ax, amp)
    ax.plot(tt, tv, color='k', lw=0.8)
for k in range(11):
    rms(a[k], 1, rt_rms[k], top_dy[k])
title(a[0], [('NTAL+NTOL+HYDL+SLEL', RED)])

# HYDL+SLEL / GRACE
a = [new_ax(0, 1, k) for k in range(11)]
line(a[0], hyd_up, lw=0.7)
line(a[0], grace_up, G0, G1, color=ORANGE, lw=1.5)
a[1].plot(hyd_a9_t, hyd_a9, color='k', lw=0.7)
a[1].plot(grace_a9_t, grace_a9, color=ORANGE, lw=1.5)
a[2].plot(hyd_d9_t, hyd_d9, color='k', lw=0.7)
a[2].plot(grace_d9_t, grace_d9, color=ORANGE, lw=1.5)
line(a[3], hyd_d8, lw=0.7)
line(a[3], grace_d8, G0, G1, color=ORANGE, lw=1.5)
line(a[4], hyd_d7, lw=0.7)
line(a[4], grace_d7, G0, G1, color=ORANGE, lw=1.2)
band(a[5], hyd_d6)
a[5].plot(hyd_d6_tt, hyd_d6_tv, color='k', lw=0.7)
band(a[5], grace_d6, t0=G0, t1=G1, color=ORANGE, lw=0.3)
for ax, tt, vv in [(a[6], hyd_d5_t, hyd_d5), (a[7], hyd_d4_t, hyd_d4), (a[8], hyd_d3_t, hyd_d3),
                   (a[9], hyd_d2_t, hyd_d2), (a[10], hyd_d1_t, hyd_d1)]:
    ax.plot(tt, vv, color='k', lw=1.0)
for k in range(11):
    rms(a[k], 0, hyd_rms[k], bot_dy[k], grace_rms[k] if k < 6 else None)
title(a[0], [('HYDL+SLEL', RED), ('/', 'black'), ('GRACE', ORANGE)])

# NTAL+NTOL
a = [new_ax(1, 1, k) for k in range(11)]
band(a[0], br_up_hi, br_up_lo, lw=0.8)
a[1].plot(br_a9_t, br_a9, color='k', lw=1.6)
line(a[2], br_d9, lw=1.6)
line(a[3], br_d8, lw=1.6)
line(a[4], br_d7, lw=1.6)
band(a[5], br_d6, lw=0.8)
for ax, amp, tt, tv in [(a[6], br_d5, br_d5_tt, br_d5_tv), (a[7], br_d4, br_d4_tt, br_d4_tv),
                        (a[8], br_d3, br_d3_tt, br_d3_tv), (a[9], br_d2, br_d2_tt, br_d2_tv),
                        (a[10], br_d1, br_d1_tt, br_d1_tv)]:
    band(ax, amp, lw=0.8)
    ax.plot(tt, tv, color='k', lw=1.4)
for k in range(11):
    rms(a[k], 1, br_rms[k], bot_dy[k])
title(a[0], [('NTAL+NTOL', RED)])

fig.savefig('out.png', dpi=100)
